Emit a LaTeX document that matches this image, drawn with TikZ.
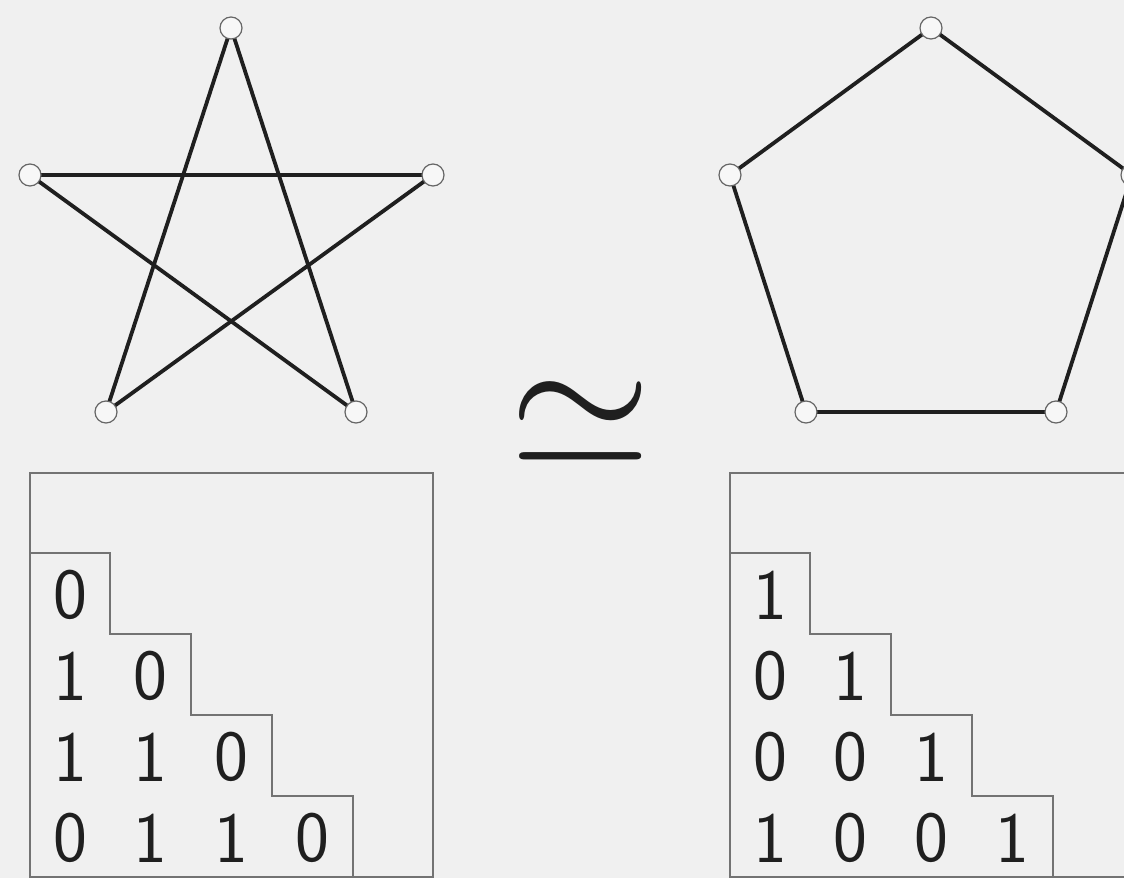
\documentclass[tikz,border=0pt]{standalone}
\begin{document}
\begin{tikzpicture}[x=1pt,y=-1pt,
  vtx/.style={circle,draw=black!60,fill=black!3,line width=1.2pt,minimum size=22pt,inner sep=0pt},
  edge/.style={draw=black!88,line width=3.8pt},
  mbox/.style={draw=black!55,line width=1.5pt},
  digit/.style={inner sep=0pt,font=\fontsize{72}{72}\selectfont\sffamily,text=black!88}]
\useasboundingbox (0,0) rectangle (1124,878);
\clip (0,0) rectangle (1124,878);
\fill[black!6] (0,0) rectangle (1124,878);
% star
\coordinate (sT) at (231,28);
\coordinate (sL) at (30,175);
\coordinate (sR) at (433,175);
\coordinate (sBL) at (106,412);
\coordinate (sBR) at (356,412);
\draw[edge] (sT) -- (sBL);
\draw[edge] (sT) -- (sBR);
\draw[edge] (sL) -- (sR);
\draw[edge] (sL) -- (sBR);
\draw[edge] (sR) -- (sBL);
\foreach \v in {sT,sL,sR,sBL,sBR} \node[vtx] (n\v) at (\v) {};
% pentagon
\coordinate (pT) at (931,28);
\coordinate (pL) at (730,175);
\coordinate (pR) at (1132,175);
\coordinate (pBL) at (806,412);
\coordinate (pBR) at (1056,412);
\draw[edge] (pT) -- (pL);
\draw[edge] (pL) -- (pBL);
\draw[edge] (pBL) -- (pBR);
\draw[edge] (pBR) -- (pR);
\draw[edge] (pR) -- (pT);
\foreach \v in {pT,pL,pR,pBL,pBR} \node[vtx] (n\v) at (\v) {};
% simeq
\node[inner sep=0pt,text=black!88] (sim) at (581,424) {\scalebox{18.3}{$\simeq$}};
% matrices
\foreach \ox/\nm in {0/a,700/b}{
  \begin{scope}[xshift=\ox]
  \draw[mbox] (30,473) rectangle (433,877);
  \draw[mbox] (30,553) -- (110,553) -- (110,634) -- (191,634) -- (191,715) -- (272,715) -- (272,796) -- (353,796) -- (353,877);
  \end{scope}
}
% left matrix entries
\node[digit] (a11) at (70,595) {0};
\node[digit] (a21) at (70,676) {1};
\node[digit] (a22) at (150,676) {0};
\node[digit] (a31) at (70,757) {1};
\node[digit] (a32) at (150,757) {1};
\node[digit] (a33) at (231,757) {0};
\node[digit] (a41) at (70,838) {0};
\node[digit] (a42) at (150,838) {1};
\node[digit] (a43) at (231,838) {1};
\node[digit] (a44) at (312,838) {0};
% right matrix entries
\node[digit] (b11) at (770,595) {1};
\node[digit] (b21) at (770,676) {0};
\node[digit] (b22) at (850,676) {1};
\node[digit] (b31) at (770,757) {0};
\node[digit] (b32) at (850,757) {0};
\node[digit] (b33) at (931,757) {1};
\node[digit] (b41) at (770,838) {1};
\node[digit] (b42) at (850,838) {0};
\node[digit] (b43) at (931,838) {0};
\node[digit] (b44) at (1012,838) {1};
\end{tikzpicture}
\end{document}
